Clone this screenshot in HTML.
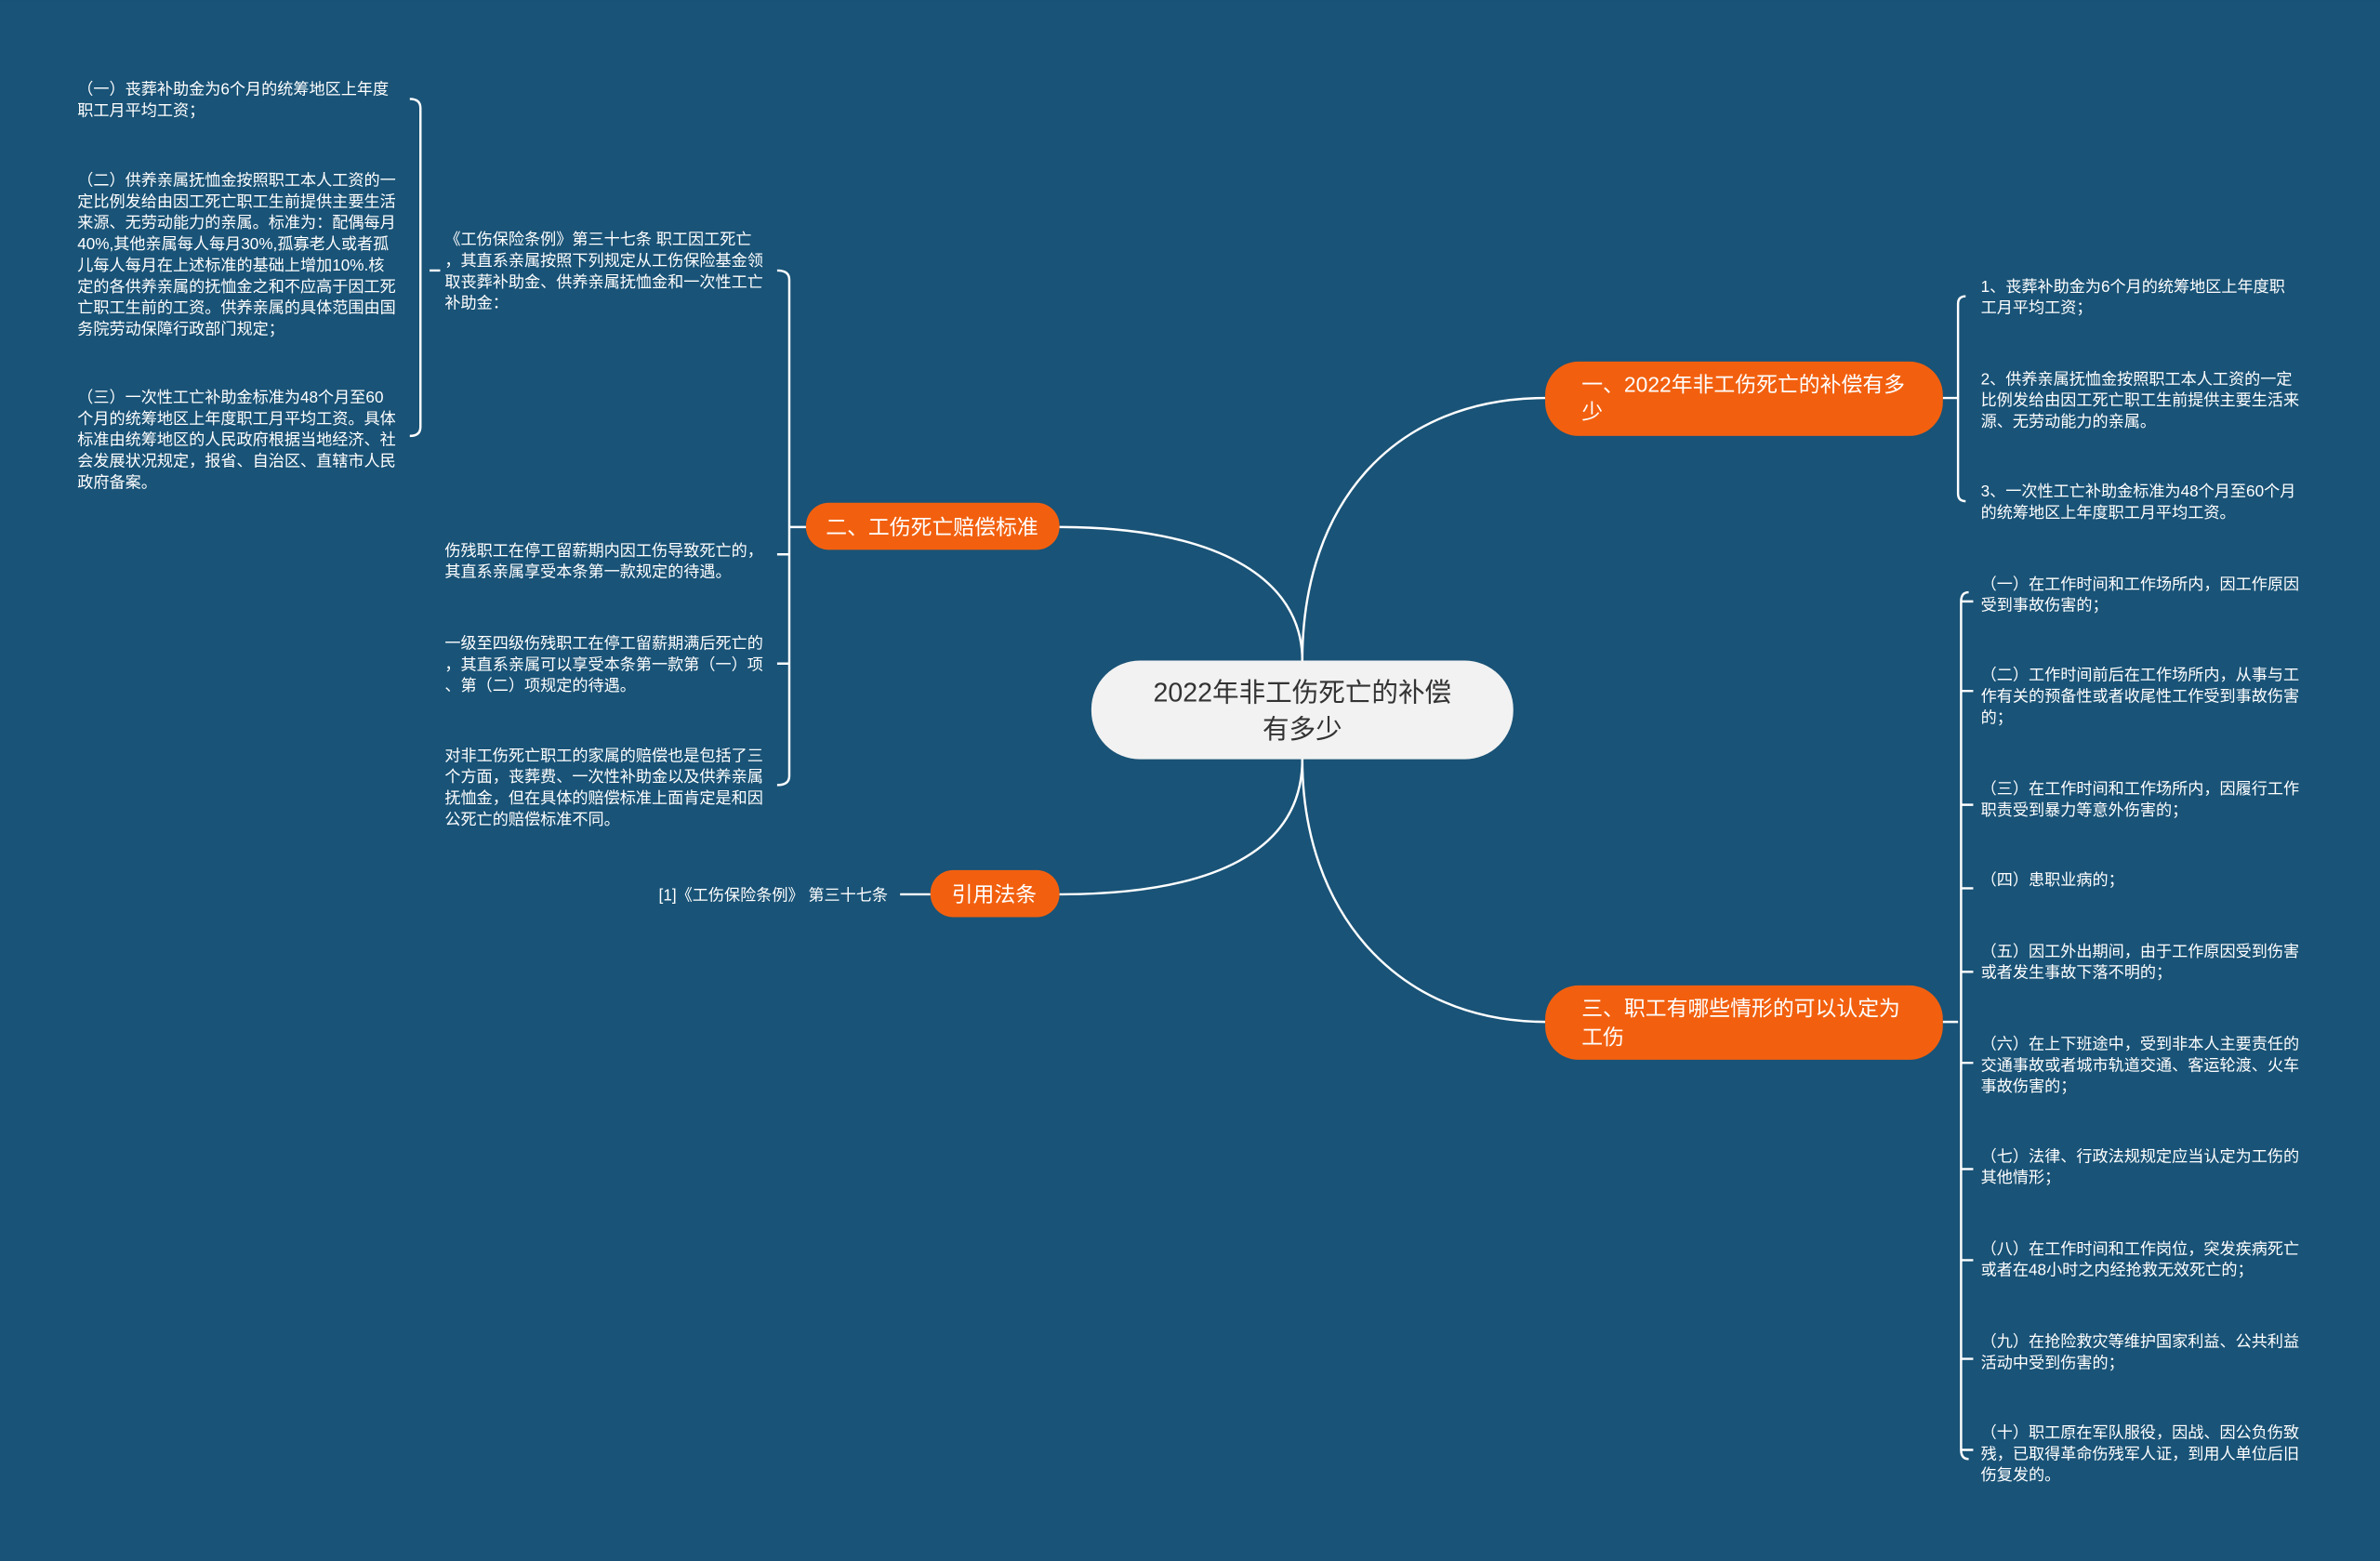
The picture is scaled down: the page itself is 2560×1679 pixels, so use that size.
<!DOCTYPE html>
<html><head><meta charset="utf-8"><style>
html,body{margin:0;padding:0;background:#195377;}
svg{display:block}
text{font-family:"Liberation Sans","Noto Sans CJK SC",sans-serif;}
.s{fill:#fff;font-size:10.5px}
.b{fill:#fff;font-size:14px}
</style></head><body>
<svg width="2560" height="1679" viewBox="0 0 1568 1028" xmlns="http://www.w3.org/2000/svg">
<rect width="1568" height="1028" fill="#195377"/>
<g fill="none" stroke="#fff" stroke-width="1.5">
<path d="M858 435 C858 330 920 262 1018 262"/>
<path d="M858 500 C858 600 920 673 1018 673"/>
<path d="M858 435 C858 380 800 347 698 347"/>
<path d="M858 500 C858 560 800 589 698 589"/>
<path d="M613 589 H593"/>
<path d="M1280 262 H1290 M1295 195 Q1290 195 1290 200 V325 Q1290 330 1295 330 M1290 262 V262"/>
<path d="M1280 673 H1290 M1297 390 Q1292 390 1292 396 V955 Q1292 961 1297 961"/>
<path d="M1292 396 H1300 M1292 455 H1300 M1292 530 H1300 M1292 585 H1300 M1292 640 H1300 M1292 700 H1300 M1292 770 H1300 M1292 830 H1300 M1292 895 H1300 M1292 955 H1300"/>
<path d="M531 347 H520 M512 178 Q520 178 520 184 V511 Q520 517 512 517 M520 365 H512 M520 437 H512"/>
<path d="M290 178 H283 M270 65 Q277 65 277 71 V281 Q277 287 270 287"/>
</g>
<rect x="719" y="435" width="278" height="65" rx="32" fill="#f2f2f2"/>
<text x="858" y="462" text-anchor="middle" font-size="17.5" fill="#333">2022年非工伤死亡的补偿</text>
<text x="858" y="486" text-anchor="middle" font-size="17.5" fill="#333">有多少</text>
<rect x="1018" y="238" width="262" height="49" rx="22" fill="#f2600f"/>
<text class="b" x="1042" y="258">一、2022年非工伤死亡的补偿有多</text>
<text class="b" x="1042" y="276">少</text>
<rect x="1018" y="649" width="262" height="49" rx="22" fill="#f2600f"/>
<text class="b" x="1042" y="669">三、职工有哪些情形的可以认定为</text>
<text class="b" x="1042" y="688">工伤</text>
<rect x="531" y="331" width="167" height="31" rx="15" fill="#f2600f"/>
<text class="b" x="614" y="352" text-anchor="middle">二、工伤死亡赔偿标准</text>
<rect x="613" y="573" width="85" height="31" rx="15" fill="#f2600f"/>
<text class="b" x="655" y="594" text-anchor="middle">引用法条</text>
<text class="s" x="434" y="593">[1]《工伤保险条例》 第三十七条</text>
<g class="s">
<text class="s" x="1305" y="192">1、丧葬补助金为6个月的统筹地区上年度职</text>
<text class="s" x="1305" y="206">工月平均工资；</text>
<text class="s" x="1305" y="253">2、供养亲属抚恤金按照职工本人工资的一定</text>
<text class="s" x="1305" y="267">比例发给由因工死亡职工生前提供主要生活来</text>
<text class="s" x="1305" y="281">源、无劳动能力的亲属。</text>
<text class="s" x="1305" y="327">3、一次性工亡补助金标准为48个月至60个月</text>
<text class="s" x="1305" y="341">的统筹地区上年度职工月平均工资。</text>
<text class="s" x="1305" y="388">（一）在工作时间和工作场所内，因工作原因</text>
<text class="s" x="1305" y="402">受到事故伤害的；</text>
<text class="s" x="1305" y="448">（二）工作时间前后在工作场所内，从事与工</text>
<text class="s" x="1305" y="462">作有关的预备性或者收尾性工作受到事故伤害</text>
<text class="s" x="1305" y="476">的；</text>
<text class="s" x="1305" y="523">（三）在工作时间和工作场所内，因履行工作</text>
<text class="s" x="1305" y="537">职责受到暴力等意外伤害的；</text>
<text class="s" x="1305" y="583">（四）患职业病的；</text>
<text class="s" x="1305" y="630">（五）因工外出期间，由于工作原因受到伤害</text>
<text class="s" x="1305" y="644">或者发生事故下落不明的；</text>
<text class="s" x="1305" y="691">（六）在上下班途中，受到非本人主要责任的</text>
<text class="s" x="1305" y="705">交通事故或者城市轨道交通、客运轮渡、火车</text>
<text class="s" x="1305" y="719">事故伤害的；</text>
<text class="s" x="1305" y="765">（七）法律、行政法规规定应当认定为工伤的</text>
<text class="s" x="1305" y="779">其他情形；</text>
<text class="s" x="1305" y="826">（八）在工作时间和工作岗位，突发疾病死亡</text>
<text class="s" x="1305" y="840">或者在48小时之内经抢救无效死亡的；</text>
<text class="s" x="1305" y="887">（九）在抢险救灾等维护国家利益、公共利益</text>
<text class="s" x="1305" y="901">活动中受到伤害的；</text>
<text class="s" x="1305" y="947">（十）职工原在军队服役，因战、因公负伤致</text>
<text class="s" x="1305" y="961">残，已取得革命伤残军人证，到用人单位后旧</text>
<text class="s" x="1305" y="975">伤复发的。</text>
<text class="s" x="293" y="161">《工伤保险条例》第三十七条 职工因工死亡</text>
<text class="s" x="293" y="175">，其直系亲属按照下列规定从工伤保险基金领</text>
<text class="s" x="293" y="189">取丧葬补助金、供养亲属抚恤金和一次性工亡</text>
<text class="s" x="293" y="203">补助金：</text>
<text class="s" x="293" y="366">伤残职工在停工留薪期内因工伤导致死亡的，</text>
<text class="s" x="293" y="380">其直系亲属享受本条第一款规定的待遇。</text>
<text class="s" x="293" y="427">一级至四级伤残职工在停工留薪期满后死亡的</text>
<text class="s" x="293" y="441">，其直系亲属可以享受本条第一款第（一）项</text>
<text class="s" x="293" y="455">、第（二）项规定的待遇。</text>
<text class="s" x="293" y="501">对非工伤死亡职工的家属的赔偿也是包括了三</text>
<text class="s" x="293" y="515">个方面，丧葬费、一次性补助金以及供养亲属</text>
<text class="s" x="293" y="529">抚恤金，但在具体的赔偿标准上面肯定是和因</text>
<text class="s" x="293" y="543">公死亡的赔偿标准不同。</text>
<text class="s" x="51" y="62">（一）丧葬补助金为6个月的统筹地区上年度</text>
<text class="s" x="51" y="76">职工月平均工资；</text>
<text class="s" x="51" y="122">（二）供养亲属抚恤金按照职工本人工资的一</text>
<text class="s" x="51" y="136">定比例发给由因工死亡职工生前提供主要生活</text>
<text class="s" x="51" y="150">来源、无劳动能力的亲属。标准为：配偶每月</text>
<text class="s" x="51" y="164">40%,其他亲属每人每月30%,孤寡老人或者孤</text>
<text class="s" x="51" y="178">儿每人每月在上述标准的基础上增加10%.核</text>
<text class="s" x="51" y="192">定的各供养亲属的抚恤金之和不应高于因工死</text>
<text class="s" x="51" y="206">亡职工生前的工资。供养亲属的具体范围由国</text>
<text class="s" x="51" y="220">务院劳动保障行政部门规定；</text>
<text class="s" x="51" y="265">（三）一次性工亡补助金标准为48个月至60</text>
<text class="s" x="51" y="279">个月的统筹地区上年度职工月平均工资。具体</text>
<text class="s" x="51" y="293">标准由统筹地区的人民政府根据当地经济、社</text>
<text class="s" x="51" y="307">会发展状况规定，报省、自治区、直辖市人民</text>
<text class="s" x="51" y="321">政府备案。</text>
</g>
</svg>
</body></html>
